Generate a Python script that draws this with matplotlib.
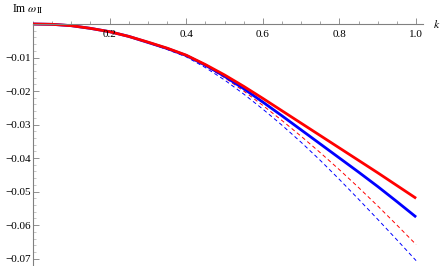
import matplotlib
matplotlib.use("Agg")
import matplotlib.pyplot as plt
from matplotlib.ticker import MultipleLocator, FixedLocator

plt.rcParams["mathtext.fontset"] = "stix"

# values
k = [0.0, 0.05, 0.1, 0.15, 0.2, 0.25, 0.3, 0.35, 0.4, 0.45, 0.5,
     0.55, 0.6, 0.65, 0.7, 0.75, 0.8, 0.85, 0.9, 0.95, 1.0]
red_solid = [0.0, -0.0001, -0.0005, -0.0013, -0.0023, -0.0037, -0.0054, -0.0072,
             -0.0093, -0.0121, -0.0152, -0.0186, -0.0222, -0.0259, -0.0296,
             -0.0333, -0.0370, -0.0407, -0.0444, -0.0482, -0.0520]
blue_solid = [0.0, -0.0001, -0.0005, -0.0013, -0.0023, -0.0037, -0.0055, -0.0073,
              -0.0094, -0.0123, -0.0156, -0.0193, -0.0233, -0.0274, -0.0316,
              -0.0358, -0.0400, -0.0442, -0.0485, -0.0530, -0.0576]
red_dashed = [0.0, -0.0001, -0.0005, -0.0013, -0.0023, -0.0037, -0.0055, -0.0074,
              -0.0095, -0.0125, -0.0160, -0.0200, -0.0243, -0.0288, -0.0335,
              -0.0384, -0.0435, -0.0488, -0.0543, -0.0600, -0.0658]
blue_dashed = [0.0, -0.0001, -0.0005, -0.0013, -0.0023, -0.0038, -0.0056, -0.0076,
               -0.0098, -0.0130, -0.0167, -0.0209, -0.0254, -0.0302, -0.0353,
               -0.0407, -0.0464, -0.0523, -0.0583, -0.0644, -0.0706]

x_ticks = [0.2, 0.4, 0.6, 0.8, 1.0]
y_ticks = [-0.01, -0.02, -0.03, -0.04, -0.05, -0.06, -0.07]

W, H = 441, 266
fig = plt.figure(figsize=(W / 100, H / 100), dpi=100)
ax = fig.add_axes([33 / W, 1 - 265 / H, 390 / W, 241 / H])
ax.set_xlim(0, 1.018)
ax.set_ylim(-0.0719, 0)

ax.plot(k, blue_dashed, color="#0000ff", lw=0.7, dashes=(4, 3), clip_on=False)
ax.plot(k, red_dashed, color="#ff0000", lw=0.7, dashes=(4, 3), clip_on=False)
ax.plot(k, blue_solid, color="#0000ff", lw=2.0, clip_on=False, solid_capstyle="butt")
ax.plot(k, red_solid, color="#ff0000", lw=2.0, clip_on=False, solid_capstyle="butt")

axis_col = "#808080"
for s in ["right", "bottom"]:
    ax.spines[s].set_visible(False)
ax.spines["top"].set_color(axis_col)
ax.spines["left"].set_color(axis_col)
ax.spines["top"].set_linewidth(0.8)
ax.spines["left"].set_linewidth(0.8)

ax.xaxis.tick_top()
ax.xaxis.set_major_locator(FixedLocator(x_ticks))
ax.xaxis.set_minor_locator(MultipleLocator(0.05))
ax.yaxis.set_major_locator(FixedLocator(y_ticks))
ax.yaxis.set_minor_locator(MultipleLocator(0.002))
ax.tick_params(axis="x", which="major", direction="out", length=4, width=0.6,
               color=axis_col, labeltop=False, labelbottom=False)
ax.tick_params(axis="x", which="minor", direction="out", length=2.2, width=0.5, color=axis_col)
ax.tick_params(axis="y", which="major", direction="in", length=4, width=0.6,
               color=axis_col, labelsize=8, pad=1.5)
ax.tick_params(axis="y", which="minor", direction="in", length=2.2, width=0.5, color="#b0b0b0")
ax.set_yticklabels(["\u2212%.2f" % abs(v) for v in y_ticks], family="Liberation Serif")

# x tick labels sit just under the axis line
for v in x_ticks:
    ax.annotate("%.1f" % v, xy=(v, 0), xycoords="data", xytext=(0, -4),
                textcoords="offset points", ha="center", va="top",
                fontsize=8, family="Liberation Serif", annotation_clip=False)

fig.text(437 / W, 1 - 24 / H, "$k$", fontsize=8.5, ha="center", va="center")
fig.text(12 / W, 1 - 9 / H, r"Im $\omega_{\rm II}$", fontsize=8.5, ha="left", va="center",
         family="Liberation Serif")

fig.savefig("out.png", dpi=100)
